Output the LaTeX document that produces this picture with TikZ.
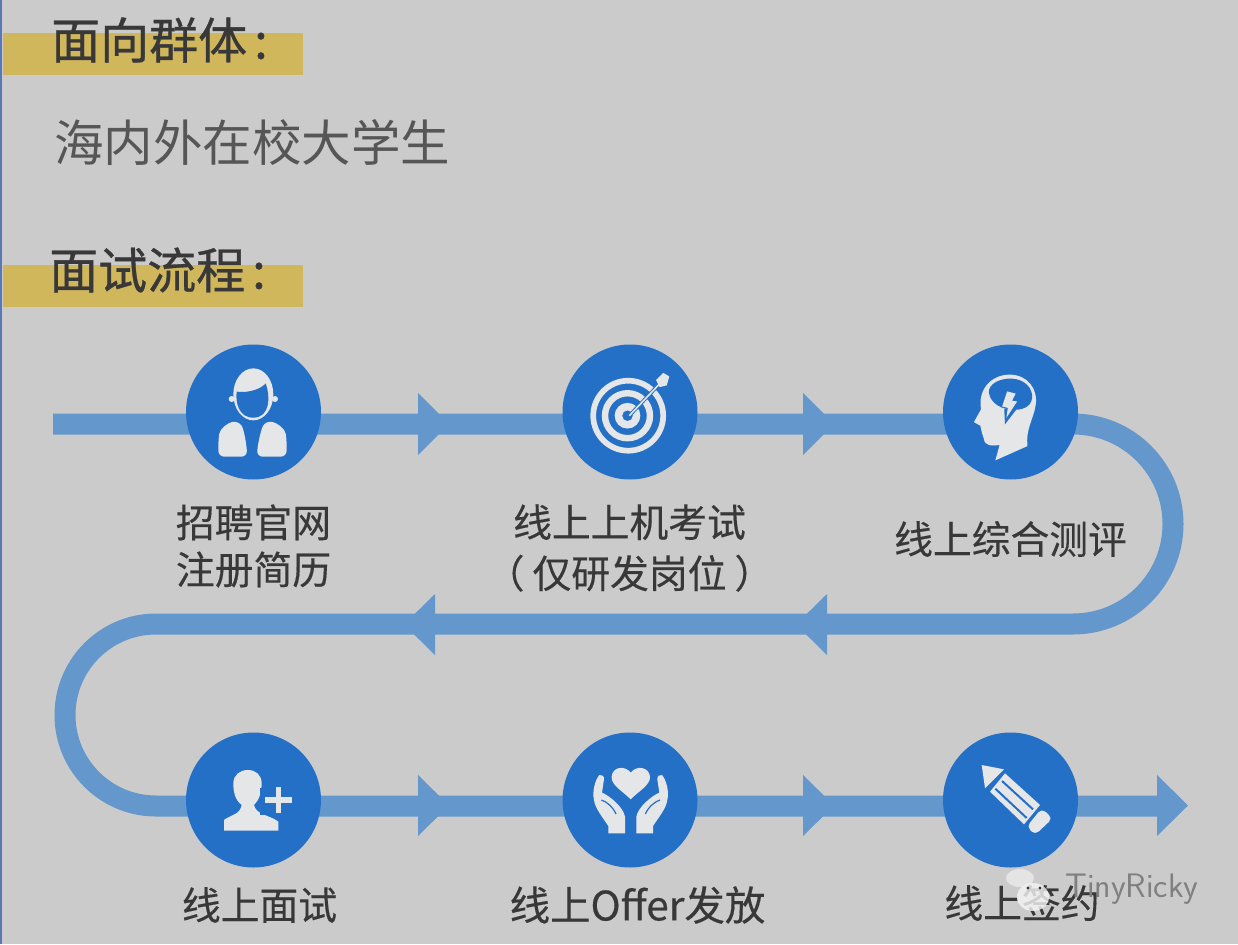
\documentclass[tikz,border=0pt]{standalone}
\usepackage{fontspec}
\newfontfamily\cjk{Noto Sans CJK SC}
\newfontfamily\cjkt[FakeBold=0.7]{Noto Sans CJK SC}
\newfontfamily\cjkl[FakeBold=0.35]{Noto Sans CJK SC}
\definecolor{bgc}{HTML}{CBCBCB}
\definecolor{pipec}{HTML}{6497CC}
\definecolor{disc}{HTML}{2470C7}
\definecolor{goldc}{HTML}{D1B75C}
\definecolor{inkc}{HTML}{383838}
\definecolor{iconc}{HTML}{E4E6E8}
\definecolor{edgec}{HTML}{5B78B5}
\tikzset{
 pipe/.style={draw=pipec,line width=21pt},
 head/.style={fill=pipec,draw=none},
 stepdisc/.style={circle,fill=disc,draw=none,minimum size=135pt,inner sep=0pt},
 title/.style={anchor=west,inner sep=0pt,font=\cjkt\fontsize{49}{52}\selectfont,text=inkc},
 lead/.style={anchor=west,inner sep=0pt,font=\cjk\fontsize{49.5}{52}\selectfont,text=inkc!85!white},
 lab/.style={align=center,inner sep=0pt,font=\cjkl\fontsize{38.8}{47}\selectfont,text=inkc},
 ico/.style={fill=iconc,draw=none},
 icoblue/.style={fill=disc,draw=none},
}
\begin{document}
\begin{tikzpicture}[x=1pt,y=-1pt]
\useasboundingbox (0,0) rectangle (1238,944);
\fill[bgc] (0,0) rectangle (1238,944);
\fill[edgec] (0,0) rectangle (2,944);
% highlights
\fill[goldc] (3,33) rectangle (303,75);
\fill[goldc] (3,265) rectangle (303,307);
\node[title] (t1) at (51,40) {面向群体\hspace{7pt}:};
\node[lead] (t2) at (54,143) {海内外在校大学生};
\node[title] (t3) at (49,270) {面试流程\hspace{7pt}:};
% pipe
\coordinate (start) at (53,424);
\coordinate (bend1) at (1073,424);
\coordinate (bend2) at (1073,624);
\coordinate (bend3) at (156,624);
\coordinate (bend4) at (156,806);
\coordinate (finish) at (1160,806);
\draw[pipe,line join=round] (start) -- (bend1) arc[start angle=-90,end angle=90,radius=100]
   -- (bend3) arc[start angle=-90,end angle=-270,radius=91] -- (finish);
% arrowheads
\foreach \x in {418,803}{\fill[head] (\x,393) -- (\x+31,424) -- (\x,455) -- cycle;}
\foreach \x in {435,827}{\fill[head] (\x,594) -- (\x-31,624.5) -- (\x,655) -- cycle;}
\foreach \x in {418,803,1157}{\fill[head] (\x,775) -- (\x+31,805.5) -- (\x,836) -- cycle;}
% discs
\node[stepdisc] (a) at (253.5,412) {};
\node[stepdisc] (b) at (630,412) {};
\node[stepdisc] (c) at (1010.5,412) {};
\node[stepdisc] (d) at (253.5,800) {};
\node[stepdisc] (e) at (630,800) {};
\node[stepdisc] (f) at (1010.5,800) {};
% labels
\node[lab] (la) at (253.5,546) {招聘官网\\注册简历};
\node[lab] (lb) at (629.5,548) {线上上机考试\\[4pt]（\hspace{8pt}仅研发岗位\hspace{8pt}）};
\node[lab] (lc) at (1010.5,539) {线上综合测评};
\node[lab] (ld) at (259.5,905) {线上面试};
\node[lab,font=\cjkl\fontsize{40.5}{47}\selectfont] (le) at (637.5,905) {线上Offer发放};
\node[lab] (lf) at (1022,903) {线上签约};
% icon a: person
\begin{scope}[shift={(0,330)},scale=1/3]
 \fill[ico] (760,193) ellipse[x radius=60,y radius=78];
 \fill[ico] (695,207) circle[radius=9] (825,207) circle[radius=9];
 \fill[icoblue] (710,185) .. controls (750,190) and (785,175) .. (797,160)
   .. controls (812,200) and (810,263) .. (760,263) .. controls (715,263) and (706,215) .. (710,185) -- cycle;
 \fill[ico,rounded corners=6pt] (655,380) -- (655,330) .. controls (660,295) and (685,278) .. (715,272) .. controls (730,295) and (738,330) .. (742,380) -- cycle;
 \fill[ico,rounded corners=6pt] (860,380) -- (860,330) .. controls (855,295) and (830,278) .. (798,272) .. controls (785,295) and (775,330) .. (770,380) -- cycle;
\end{scope}
% icon b: target
\begin{scope}[shift={(540,330)},scale=1/2.8]
 \fill[ico,even odd rule] (247,240) circle[radius=106] circle[radius=90];
 \fill[ico,even odd rule] (245,240) circle[radius=72] circle[radius=54];
 \fill[ico,even odd rule] (245,240) circle[radius=36] circle[radius=15];
 \draw[disc,line width=3.5pt] (250,240) -- (345,140);
 \draw[iconc,line width=1.6pt] (250,240) -- (345,140);
 \fill[ico] (325,140) -- (345,120) -- (362,130) -- (355,155) -- (335,160) -- cycle;
\end{scope}
% icon c: head
\begin{scope}[shift={(540,330)},scale=1/2.8]
 \fill[ico] (1275,365) -- (1287,322) .. controls (1265,325) and (1245,325) .. (1243,305)
   -- (1238,290) -- (1233,268) -- (1215,258) -- (1235,222)
   .. controls (1225,165) and (1265,125) .. (1315,125)
   .. controls (1365,125) and (1395,165) .. (1388,210)
   .. controls (1382,250) and (1360,275) .. (1365,325) -- cycle;
 \fill[icoblue] (1257,175) .. controls (1255,150) and (1290,135) .. (1320,136)
   .. controls (1360,138) and (1380,165) .. (1378,190)
   .. controls (1375,218) and (1345,226) .. (1322,222)
   .. controls (1295,224) and (1260,205) .. (1257,175) -- cycle;
 \fill[icoblue] (1322,215) -- (1342,212) -- (1302,264) -- (1300,222) -- cycle;
 \fill[ico] (1308,172) -- (1332,178) -- (1322,198) -- (1336,200) -- (1306,246) -- (1310,218) -- (1294,214) -- cycle;
\end{scope}
% icon d: person plus
\begin{scope}[shift={(170,720)},scale=1/3]
 \fill[ico] (162,332) -- (162,300) .. controls (180,285) and (210,285) .. (215,255)
   .. controls (195,240) and (190,215) .. (190,190) .. controls (190,165) and (210,150) .. (233,150)
   .. controls (258,150) and (275,165) .. (275,190) .. controls (275,215) and (268,240) .. (252,255)
   .. controls (258,285) and (300,285) .. (325,305) -- (325,332) -- cycle;
 \fill[icoblue] (270,205) rectangle (380,285);
 \fill[ico] (285,232) rectangle (365,248);
 \fill[ico] (317,200) rectangle (333,280);
\end{scope}
% icon e: hands, heart
\begin{scope}[shift={(580,750)},scale=1/3]
 \fill[ico] (152,148) .. controls (130,125) and (92,105) .. (95,80)
   .. controls (97,50) and (135,45) .. (152,68)
   .. controls (169,45) and (207,50) .. (210,80)
   .. controls (212,105) and (174,125) .. (152,148) -- cycle;
 \foreach \xf/\xs in {1/0,-1/304}{
 \begin{scope}[xshift=\xs pt,xscale=\xf]
 \fill[ico] (58,75) .. controls (65,73) and (73,78) .. (72,88) -- (66,128)
   .. controls (85,135) and (130,170) .. (135,200) -- (135,250) -- (85,250) -- (85,228)
   .. controls (70,205) and (45,175) .. (42,150) .. controls (36,125) and (45,90) .. (58,75) -- cycle;
 \draw[disc,line width=1.2pt] (64,150) .. controls (80,155) and (98,170) .. (108,192);
 \end{scope}}
\end{scope}
% icon f: pencil
\begin{scope}[shift={(800,720)},scale=1/3]
 \fill[ico] (545,135) -- (612,148) -- (555,205) -- cycle;
 \fill[ico] (615,160) -- (720,255) -- (672,313) -- (570,215) -- cycle;
 \draw[disc,line width=2pt] (606,183) -- (699,268);
 \draw[disc,line width=2pt] (586,206) -- (680,294);
 \fill[ico,rounded corners=5pt] (725,265) -- (758,295) -- (705,345) -- (680,320) -- cycle;
\end{scope}
% watermark
\fill[white!80!bgc,opacity=.8] (1033,897) ellipse[x radius=16,y radius=14];
\fill[white!80!bgc,opacity=.6] (1020,878) ellipse[x radius=14,y radius=9];
\fill[inkc] (1028,888) circle[radius=1.6] (1040,888) circle[radius=1.6];
\node[inner sep=0pt,anchor=west,font=\sffamily\fontsize{34}{36}\selectfont,text=black!50] (wm) at (1065,889) {TinyRicky};
\end{tikzpicture}
\end{document}
